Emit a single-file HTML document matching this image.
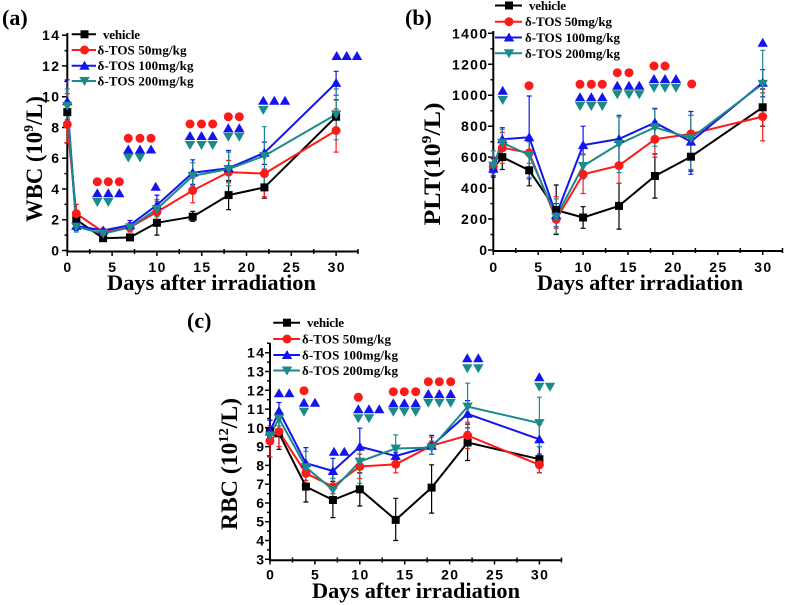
<!DOCTYPE html>
<html><head><meta charset="utf-8"><style>
html,body{margin:0;padding:0;background:#fff;overflow:hidden}
svg{display:block}
.tk{font-family:"Liberation Sans",Arial,sans-serif;font-weight:bold;font-size:14px;fill:#000}
.ti{font-family:"Liberation Serif","Times New Roman",serif;font-weight:bold;fill:#000}
.lg{font-family:"Liberation Serif","Times New Roman",serif;font-weight:bold;font-size:13px;fill:#000}
</style></head><body>
<svg width="787" height="605" viewBox="0 0 787 605" xmlns="http://www.w3.org/2000/svg">
<defs>
<rect id="sq" x="-4" y="-4" width="8" height="8" fill="#000"/>
<circle id="ci" r="4.5" fill="#ff1a1a"/>
<path id="tu" d="M0,-5 L5.2,4 L-5.2,4Z" fill="#1414f0"/>
<path id="td" d="M0,5 L5.2,-4 L-5.2,-4Z" fill="#1b8a8a"/>
</defs>
<rect width="787" height="605" fill="#fff"/>

<!-- ================= PANEL A ================= -->
<text class="ti" x="2" y="25" font-size="22">(a)</text>
<path d="M67.3,33 V251.5 H358" stroke="#000" stroke-width="2" fill="none"/>
<path stroke="#000" stroke-width="1.5" d="M62,250.5H67.3M62,219.7H67.3M62,189H67.3M62,158.2H67.3M62,127.5H67.3M62,96.7H67.3M62,65.9H67.3M62,35.2H67.3
M64.5,235.1H67.3M64.5,204.4H67.3M64.5,173.6H67.3M64.5,142.9H67.3M64.5,112.1H67.3M64.5,81.3H67.3M64.5,50.6H67.3
M67.3,251V256M112.1,251V256M156.9,251V256M201.7,251V256M246.5,251V256M291.3,251V256M336.1,251V256
M89.7,249V254M134.5,249V254M179.3,249V254M224.1,249V254M268.9,249V254M313.7,249V254M358,249V254"/>
<g class="tk" text-anchor="end">
<text x="59" y="255.5">0</text><text x="59" y="224.7">2</text><text x="59" y="194">4</text><text x="59" y="163.2">6</text><text x="59" y="132.5">8</text><text x="59" y="101.7" textLength="17">10</text><text x="59" y="70.9" textLength="17">12</text><text x="59" y="40.2" textLength="17">14</text>
</g>
<g class="tk" text-anchor="middle">
<text x="67.3" y="272">0</text><text x="112.1" y="272">5</text><text x="156.9" y="272" textLength="17">10</text><text x="201.7" y="272" textLength="17">15</text><text x="246.5" y="272" textLength="17">20</text><text x="291.3" y="272" textLength="17">25</text><text x="336.1" y="272" textLength="17">30</text>
</g>
<text class="ti" x="107" y="290" font-size="22" textLength="209" lengthAdjust="spacingAndGlyphs">Days after irradiation</text>
<text class="ti" transform="translate(42,159) rotate(-90)" text-anchor="middle" font-size="23" textLength="126" lengthAdjust="spacingAndGlyphs">WBC (10<tspan font-size="14" dy="-9">9</tspan><tspan dy="9">/L)</tspan></text>

<!-- error bars A -->
<path fill="none" stroke="#000" stroke-width="1.2" d="M76.3,225.9V213.6M73.8,225.9h5M73.8,213.6h5
M103.1,240.5V235.9M100.6,240.5h5M100.6,235.9h5
M130,239V235.9M127.5,239h5M127.5,235.9h5
M156.9,235.1V210.5M154.4,235.1h5M154.4,210.5h5
M192.7,221.3V211.3M190.2,221.3h5M190.2,211.3h5
M228.6,209.7V180.5M226.1,209.7h5M226.1,180.5h5
M264.4,198.2V176.7M261.9,198.2h5M261.9,176.7h5
M336.1,133.6V99.8M333.6,133.6h5M333.6,99.8h5"/>
<path fill="none" stroke="#ff1a1a" stroke-width="1.2" d="M67.3,142.8V93.6M64.8,142.8h5M64.8,93.6h5
M76.3,219.7V204.4M73.8,219.7h5M73.8,204.4h5
M103.1,235.1V229M100.6,235.1h5M100.6,229h5
M130,232V222.8M127.5,232h5M127.5,222.8h5
M156.9,222.8V199.7M154.4,222.8h5M154.4,199.7h5
M192.7,202.8V178.2M190.2,202.8h5M190.2,178.2h5
M228.6,182.8V160.5M226.1,182.8h5M226.1,160.5h5
M264.4,196.7V169M261.9,196.7h5M261.9,169h5
M336.1,152.1V109M333.6,152.1h5M333.6,109h5"/>
<path fill="none" stroke="#1414f0" stroke-width="1.2" d="M67.3,119.8V79.8M64.8,119.8h5M64.8,79.8h5
M76.3,230.5V221.3M73.8,230.5h5M73.8,221.3h5
M103.1,232.8V228.2M100.6,232.8h5M100.6,228.2h5
M130,229.7V220.5M127.5,229.7h5M127.5,220.5h5
M156.9,215.1V195.1M154.4,215.1h5M154.4,195.1h5
M192.7,184.4V159.8M190.2,184.4h5M190.2,159.8h5
M228.6,181.3V150.5M226.1,181.3h5M226.1,150.5h5
M264.4,164.4V142.1M261.9,164.4h5M261.9,142.1h5
M336.1,95.2V71.3M333.6,95.2h5M333.6,71.3h5"/>
<path fill="none" stroke="#1b8a8a" stroke-width="1.2" d="M67.3,122.9V89M64.8,122.9h5M64.8,89h5
M76.3,232V221.3M73.8,232h5M73.8,221.3h5
M103.1,235.9V231.3M100.6,235.9h5M100.6,231.3h5
M130,231.3V223.6M127.5,231.3h5M127.5,223.6h5
M156.9,216.7V201.3M154.4,216.7h5M154.4,201.3h5
M192.7,185.9V162.8M190.2,185.9h5M190.2,162.8h5
M228.6,185.9V152.1M226.1,185.9h5M226.1,152.1h5
M264.4,184.4V126.7M261.9,184.4h5M261.9,126.7h5
M336.1,139.8V89M333.6,139.8h5M333.6,89h5"/>

<!-- lines A -->
<g fill="none" stroke-width="2" stroke-linejoin="round">
<polyline stroke="#000" points="67.3,112.1 76.3,219.7 103.1,238.2 130,237.4 156.9,222.8 192.7,216.7 228.6,195.1 264.4,187.4 336.1,116.7"/>
<polyline stroke="#ff1a1a" points="67.3,124.4 76.3,213.6 103.1,232 130,227.4 156.9,212 192.7,190.5 228.6,172.1 264.4,173.6 336.1,130.5"/>
<polyline stroke="#1414f0" points="67.3,101.3 76.3,225.9 103.1,230.5 130,225.1 156.9,205.1 192.7,172.8 228.6,168.2 264.4,152.8 336.1,82.9"/>
<polyline stroke="#1b8a8a" points="67.3,105.9 76.3,226.7 103.1,233.6 130,227.4 156.9,209 192.7,175.9 228.6,169 264.4,155.9 336.1,114.4"/>
</g>
<g>
<use href="#sq" x="67.3" y="112.1"/><use href="#sq" x="76.3" y="219.7"/><use href="#sq" x="103.1" y="238.2"/><use href="#sq" x="130" y="237.4"/><use href="#sq" x="156.9" y="222.8"/><use href="#sq" x="192.7" y="216.7"/><use href="#sq" x="228.6" y="195.1"/><use href="#sq" x="264.4" y="187.4"/><use href="#sq" x="336.1" y="116.7"/>
<use href="#ci" x="67.3" y="124.4"/><use href="#ci" x="76.3" y="213.6"/><use href="#ci" x="103.1" y="232"/><use href="#ci" x="130" y="227.4"/><use href="#ci" x="156.9" y="212"/><use href="#ci" x="192.7" y="190.5"/><use href="#ci" x="228.6" y="172.1"/><use href="#ci" x="264.4" y="173.6"/><use href="#ci" x="336.1" y="130.5"/>
<use href="#tu" x="67.3" y="101.3"/><use href="#tu" x="76.3" y="225.9"/><use href="#tu" x="103.1" y="230.5"/><use href="#tu" x="130" y="225.1"/><use href="#tu" x="156.9" y="205.1"/><use href="#tu" x="192.7" y="172.8"/><use href="#tu" x="228.6" y="168.2"/><use href="#tu" x="264.4" y="152.8"/><use href="#tu" x="336.1" y="82.9"/>
<use href="#td" x="67.3" y="105.9"/><use href="#td" x="76.3" y="226.7"/><use href="#td" x="103.1" y="233.6"/><use href="#td" x="130" y="227.4"/><use href="#td" x="156.9" y="209"/><use href="#td" x="192.7" y="175.9"/><use href="#td" x="228.6" y="169"/><use href="#td" x="264.4" y="155.9"/><use href="#td" x="336.1" y="114.4"/>
</g>
<!-- significance A -->
<g>
<use href="#ci" x="97.3" y="181.7"/><use href="#ci" x="108.3" y="181.7"/><use href="#ci" x="119.3" y="181.7"/>
<use href="#ci" x="128.3" y="138.3"/><use href="#ci" x="140" y="138.3"/><use href="#ci" x="151" y="138.3"/>
<use href="#ci" x="190" y="124"/><use href="#ci" x="201.5" y="124"/><use href="#ci" x="212.7" y="124"/>
<use href="#ci" x="228.3" y="116.7"/><use href="#ci" x="239.3" y="116.7"/>
<use href="#tu" x="97.3" y="193.3"/><use href="#tu" x="108.3" y="193.3"/><use href="#tu" x="119.3" y="193.3"/>
<use href="#tu" x="128.3" y="149.5"/><use href="#tu" x="140" y="149.5"/><use href="#tu" x="151" y="149.5"/>
<use href="#tu" x="155.7" y="186.7"/>
<use href="#tu" x="190" y="136"/><use href="#tu" x="201.5" y="136"/><use href="#tu" x="212.7" y="136"/>
<use href="#tu" x="228.3" y="128.3"/><use href="#tu" x="239.3" y="128.3"/>
<use href="#tu" x="263.3" y="100.7"/><use href="#tu" x="274.3" y="100.7"/><use href="#tu" x="285" y="100.7"/>
<use href="#tu" x="336.7" y="56"/><use href="#tu" x="346.7" y="56"/><use href="#tu" x="357" y="56"/>
<use href="#td" x="97.3" y="202"/><use href="#td" x="108.3" y="202"/>
<use href="#td" x="128.3" y="157.5"/><use href="#td" x="140" y="157.5"/>
<use href="#td" x="190" y="145"/><use href="#td" x="201.5" y="145"/><use href="#td" x="212.7" y="145"/>
<use href="#td" x="228.3" y="136.7"/><use href="#td" x="239.3" y="136.7"/>
<use href="#td" x="263.3" y="110"/>
</g>
<!-- legend A -->
<g stroke-width="2">
<path d="M71.7,34.3H96" stroke="#000"/><use href="#sq" x="84.5" y="34.3"/>
<path d="M71.7,50H96" stroke="#ff1a1a"/><use href="#ci" x="84.5" y="50"/>
<path d="M71.7,65.7H96" stroke="#1414f0"/><use href="#tu" x="84.5" y="65.7"/>
<path d="M71.7,81H96" stroke="#1b8a8a"/><use href="#td" x="84.5" y="81"/>
</g>
<text class="lg" x="103" y="38.8" textLength="37">vehicle</text>
<text class="lg" x="97.5" y="54.5" textLength="89">δ-TOS 50mg/kg</text>
<text class="lg" x="97.5" y="70.2" textLength="96">δ-TOS 100mg/kg</text>
<text class="lg" x="97.5" y="85.5" textLength="96">δ-TOS 200mg/kg</text>

<!-- ================= PANEL B ================= -->
<text class="ti" x="405" y="25" font-size="22">(b)</text>
<path d="M493.3,31 V251 H783" stroke="#000" stroke-width="2" fill="none"/>
<path stroke="#000" stroke-width="1.5" d="M488,250H493.3M488,219H493.3M488,188.1H493.3M488,157.1H493.3M488,126.2H493.3M488,95.2H493.3M488,64.3H493.3M488,33.3H493.3
M490.5,234.5H493.3M490.5,203.6H493.3M490.5,172.6H493.3M490.5,141.7H493.3M490.5,110.7H493.3M490.5,79.8H493.3M490.5,48.8H493.3
M493.3,250V255M538.2,250V255M583.1,250V255M628,250V255M672.9,250V255M717.8,250V255M762.7,250V255
M515.8,248V253M560.7,248V253M605.6,248V253M650.5,248V253M695.4,248V253M740.3,248V253M782.5,248V253"/>
<g class="tk" text-anchor="end">
<text x="487" y="255">0</text><text x="487" y="224" textLength="26">200</text><text x="487" y="193.1" textLength="26">400</text><text x="487" y="162.1" textLength="26">600</text><text x="487" y="131.2" textLength="26">800</text><text x="487" y="100.2" textLength="35">1000</text><text x="487" y="69.3" textLength="35">1200</text><text x="487" y="38.3" textLength="35">1400</text>
</g>
<g class="tk" text-anchor="middle">
<text x="493.3" y="272">0</text><text x="538.2" y="272">5</text><text x="583.1" y="272" textLength="17">10</text><text x="628" y="272" textLength="17">15</text><text x="672.9" y="272" textLength="17">20</text><text x="717.8" y="272" textLength="17">25</text><text x="762.7" y="272" textLength="17">30</text>
</g>
<text class="ti" x="537" y="290" font-size="22" textLength="206" lengthAdjust="spacingAndGlyphs">Days after irradiation</text>
<text class="ti" transform="translate(440,164) rotate(-90)" text-anchor="middle" font-size="23" textLength="123" lengthAdjust="spacingAndGlyphs">PLT(10<tspan font-size="14" dy="-9">9</tspan><tspan dy="9">/L)</tspan></text>

<path fill="none" stroke="#000" stroke-width="1.2" d="M493.3,177.2V158.7M490.8,177.2h5M490.8,158.7h5
M502.3,169.5V144.7M499.8,169.5h5M499.8,144.7h5
M529.2,185.8V154.8M526.7,185.8h5M526.7,154.8h5
M556.2,234.5V185M553.7,234.5h5M553.7,185h5
M583.1,228.3V206.7M580.6,228.3h5M580.6,206.7h5
M619,229.1V183.4M616.5,229.1h5M616.5,183.4h5
M654.9,198.1V154M652.4,198.1h5M652.4,154h5
M690.9,171.1V141.6M688.4,171.1h5M688.4,141.6h5
M762.7,126.2V89M760.2,126.2h5M760.2,89h5"/>
<path fill="none" stroke="#ff1a1a" stroke-width="1.2" d="M502.3,163.3V132.4M499.8,163.3h5M499.8,132.4h5
M529.2,163.3V141.6M526.7,163.3h5M526.7,141.6h5
M556.2,228.3V196.6M553.7,228.3h5M553.7,196.6h5
M583.1,193.5V154.8M580.6,193.5h5M580.6,154.8h5
M619,183.4V144.7M616.5,183.4h5M616.5,144.7h5
M654.9,157.1V121.5M652.4,157.1h5M652.4,121.5h5
M690.9,157.1V115.3M688.4,157.1h5M688.4,115.3h5
M762.7,140.9V92.9M760.2,140.9h5M760.2,92.9h5"/>
<path fill="none" stroke="#1414f0" stroke-width="1.2" d="M493.3,175.7V157.1M490.8,175.7h5M490.8,157.1h5
M502.3,150.9V127.7M499.8,150.9h5M499.8,127.7h5
M529.2,178.8V96M526.7,178.8h5M526.7,96h5
M556.2,226.8V203.6M553.7,226.8h5M553.7,203.6h5
M583.1,164.9V126.2M580.6,164.9h5M580.6,126.2h5
M619,163.3V115.3M616.5,163.3h5M616.5,115.3h5
M654.9,141.6V108.4M652.4,141.6h5M652.4,108.4h5
M690.9,174.2V111.5M688.4,174.2h5M688.4,111.5h5
M762.7,96.8V69.7M760.2,96.8h5M760.2,69.7h5"/>
<path fill="none" stroke="#1b8a8a" stroke-width="1.2" d="M493.3,172.6V150.9M490.8,172.6h5M490.8,150.9h5
M502.3,157.1V129.3M499.8,157.1h5M499.8,129.3h5
M529.2,177.2V141.6M526.7,177.2h5M526.7,141.6h5
M556.2,233.7V198.9M553.7,233.7h5M553.7,198.9h5
M583.1,178.8V154M580.6,178.8h5M580.6,154h5
M619,172.6V116.9M616.5,172.6h5M616.5,116.9h5
M654.9,146.3V109.1M652.4,146.3h5M652.4,109.1h5
M690.9,169.5V115.3M688.4,169.5h5M688.4,115.3h5
M762.7,118.4V50.3M760.2,118.4h5M760.2,50.3h5"/>

<g fill="none" stroke-width="2" stroke-linejoin="round">
<polyline stroke="#000" points="493.3,168 502.3,157.1 529.2,170.3 556.2,210.1 583.1,217.5 619,205.9 654.9,176 690.9,156.7 762.7,107.3"/>
<polyline stroke="#ff1a1a" points="493.3,166.4 502.3,147.8 529.2,152.8 556.2,219.4 583.1,174.3 619,165.6 654.9,139.3 690.9,133.9 762.7,116.6"/>
<polyline stroke="#1414f0" points="493.3,168.7 502.3,139.3 529.2,137.3 556.2,215 583.1,145.1 619,139 654.9,122.6 690.9,141.6 762.7,82.7"/>
<polyline stroke="#1b8a8a" points="493.3,165.6 502.3,142.7 529.2,155 556.2,216.7 583.1,166 619,144 654.9,127.3 690.9,138.2 762.7,83.9"/>
</g>
<g>
<use href="#sq" x="493.3" y="168"/><use href="#sq" x="502.3" y="157.1"/><use href="#sq" x="529.2" y="170.3"/><use href="#sq" x="556.2" y="210.1"/><use href="#sq" x="583.1" y="217.5"/><use href="#sq" x="619" y="205.9"/><use href="#sq" x="654.9" y="176"/><use href="#sq" x="690.9" y="156.7"/><use href="#sq" x="762.7" y="107.3"/>
<use href="#ci" x="493.3" y="166.4"/><use href="#ci" x="502.3" y="147.8"/><use href="#ci" x="529.2" y="152.8"/><use href="#ci" x="556.2" y="219.4"/><use href="#ci" x="583.1" y="174.3"/><use href="#ci" x="619" y="165.6"/><use href="#ci" x="654.9" y="139.3"/><use href="#ci" x="690.9" y="133.9"/><use href="#ci" x="762.7" y="116.6"/>
<use href="#tu" x="493.3" y="168.7"/><use href="#tu" x="502.3" y="139.3"/><use href="#tu" x="529.2" y="137.3"/><use href="#tu" x="556.2" y="215"/><use href="#tu" x="583.1" y="145.1"/><use href="#tu" x="619" y="139"/><use href="#tu" x="654.9" y="122.6"/><use href="#tu" x="690.9" y="141.6"/><use href="#tu" x="762.7" y="82.7"/>
<use href="#td" x="493.3" y="165.6"/><use href="#td" x="502.3" y="142.7"/><use href="#td" x="529.2" y="155"/><use href="#td" x="556.2" y="216.7"/><use href="#td" x="583.1" y="166"/><use href="#td" x="619" y="144"/><use href="#td" x="654.9" y="127.3"/><use href="#td" x="690.9" y="138.2"/><use href="#td" x="762.7" y="83.9"/>
</g>
<g>
<use href="#tu" x="502.7" y="90.7"/><use href="#td" x="502.7" y="100"/>
<use href="#ci" x="529" y="85.7"/>
<use href="#ci" x="580" y="84.3"/><use href="#ci" x="591.3" y="84.3"/><use href="#ci" x="602.3" y="84.3"/>
<use href="#tu" x="580" y="97.3"/><use href="#tu" x="591.3" y="97.3"/><use href="#tu" x="602.3" y="97.3"/>
<use href="#td" x="580" y="106"/><use href="#td" x="591.3" y="106"/><use href="#td" x="602.3" y="106"/>
<use href="#ci" x="617.3" y="72.7"/><use href="#ci" x="629" y="72.7"/>
<use href="#tu" x="617.3" y="85.7"/><use href="#tu" x="629" y="85.7"/><use href="#tu" x="639.3" y="85.7"/>
<use href="#td" x="617.3" y="94.3"/><use href="#td" x="629" y="94.3"/><use href="#td" x="639.3" y="94.3"/>
<use href="#ci" x="654" y="66"/><use href="#ci" x="665" y="66"/>
<use href="#tu" x="654" y="79"/><use href="#tu" x="665" y="79"/><use href="#tu" x="676" y="79"/>
<use href="#td" x="654" y="87.7"/><use href="#td" x="665" y="87.7"/><use href="#td" x="676" y="87.7"/>
<use href="#ci" x="691.7" y="84"/>
<use href="#tu" x="762.7" y="42.7"/>
</g>
<g stroke-width="2">
<path d="M495,5.5H522" stroke="#000"/><use href="#sq" x="509" y="5.5"/>
<path d="M495,21.7H522" stroke="#ff1a1a"/><use href="#ci" x="509" y="21.7"/>
<path d="M495,37.5H522" stroke="#1414f0"/><use href="#tu" x="509" y="37.5"/>
<path d="M495,53.3H522" stroke="#1b8a8a"/><use href="#td" x="509" y="53.3"/>
</g>
<text class="lg" x="529" y="10" textLength="37">vehicle</text>
<text class="lg" x="525" y="26.2" textLength="87">δ-TOS 50mg/kg</text>
<text class="lg" x="525" y="42" textLength="95">δ-TOS 100mg/kg</text>
<text class="lg" x="525" y="57.8" textLength="95">δ-TOS 200mg/kg</text>

<!-- ================= PANEL C ================= -->
<text class="ti" x="187" y="328" font-size="22">(c)</text>
<path d="M270,343 V560.3 H562" stroke="#000" stroke-width="2" fill="none"/>
<path stroke="#000" stroke-width="1.5" d="M265,559.3H270M265,540.5H270M265,521.7H270M265,503H270M265,484.2H270M265,465.4H270M265,446.6H270M265,427.8H270M265,409.1H270M265,390.3H270M265,371.5H270M265,352.7H270
M267,549.9H270M267,531.1H270M267,512.4H270M267,493.6H270M267,474.8H270M267,456H270M267,437.2H270M267,418.5H270M267,399.7H270M267,380.9H270M267,362.1H270M267,343.3H270
M270,559.5V564.5M314.9,559.5V564.5M359.8,559.5V564.5M404.7,559.5V564.5M449.6,559.5V564.5M494.5,559.5V564.5M539.4,559.5V564.5
M292.5,557.5V562.5M337.4,557.5V562.5M382.3,557.5V562.5M427.2,557.5V562.5M472.1,557.5V562.5M517,557.5V562.5M561.5,557.5V562.5"/>
<g class="tk" text-anchor="end">
<text x="264" y="564.3">3</text><text x="264" y="545.5">4</text><text x="264" y="526.7">5</text><text x="264" y="508">6</text><text x="264" y="489.2">7</text><text x="264" y="470.4">8</text><text x="264" y="451.6">9</text><text x="264" y="432.8" textLength="17">10</text><text x="264" y="414.1" textLength="17">11</text><text x="264" y="395.3" textLength="17">12</text><text x="264" y="376.5" textLength="17">13</text><text x="264" y="357.7" textLength="17">14</text>
</g>
<g class="tk" text-anchor="middle">
<text x="270" y="579.5">0</text><text x="314.9" y="579.5">5</text><text x="359.8" y="579.5" textLength="17">10</text><text x="404.7" y="579.5" textLength="17">15</text><text x="449.6" y="579.5" textLength="17">20</text><text x="494.5" y="579.5" textLength="17">25</text><text x="539.4" y="579.5" textLength="17">30</text>
</g>
<text class="ti" x="312" y="598" font-size="22" textLength="208" lengthAdjust="spacingAndGlyphs">Days after irradiation</text>
<text class="ti" transform="translate(237,464) rotate(-90)" text-anchor="middle" font-size="23" textLength="132" lengthAdjust="spacingAndGlyphs">RBC (10<tspan font-size="14" dy="-9">12</tspan><tspan dy="9">/L)</tspan></text>

<path fill="none" stroke="#000" stroke-width="1.2" d="M270,441V420.3M267.5,441h5M267.5,420.3h5
M279,449.4V418.5M276.5,449.4h5M276.5,418.5h5
M305.9,502V471M303.4,502h5M303.4,471h5
M332.9,517.6V481.4M330.4,517.6h5M330.4,481.4h5
M359.8,506V472.9M357.3,506h5M357.3,472.9h5
M395.7,540.5V498.3M393.2,540.5h5M393.2,498.3h5
M431.6,513.1V464.8M429.1,513.1h5M429.1,464.8h5
M467.6,460.5V424.1M465.1,460.5h5M465.1,424.1h5
M539.4,472.9V446.6M536.9,472.9h5M536.9,446.6h5"/>
<path fill="none" stroke="#ff1a1a" stroke-width="1.2" d="M270,457V426M267.5,457h5M267.5,426h5
M279,446.6V416.6M276.5,446.6h5M276.5,416.6h5
M305.9,480.4V465.4M303.4,480.4h5M303.4,465.4h5
M332.9,493.6V478.5M330.4,493.6h5M330.4,478.5h5
M359.8,478.5V454.1M357.3,478.5h5M357.3,454.1h5
M395.7,472.9V456M393.2,472.9h5M393.2,456h5
M431.6,454.1V437.2M429.1,454.1h5M429.1,437.2h5
M467.6,448.5V422.2M465.1,448.5h5M465.1,422.2h5
M539.4,472.9V456M536.9,472.9h5M536.9,456h5"/>
<path fill="none" stroke="#1414f0" stroke-width="1.2" d="M270,442.9V420.3M267.5,442.9h5M267.5,420.3h5
M279,418.5V402.5M276.5,418.5h5M276.5,402.5h5
M305.9,476.7V447.6M303.4,476.7h5M303.4,447.6h5
M332.9,484.2V458.3M330.4,484.2h5M330.4,458.3h5
M359.8,465.4V428.2M357.3,465.4h5M357.3,428.2h5
M395.7,459.8V452.3M393.2,459.8h5M393.2,452.3h5
M431.6,454.1V435.4M429.1,454.1h5M429.1,435.4h5
M467.6,427.8V400.6M465.1,427.8h5M465.1,400.6h5
M539.4,454.1V424.1M536.9,454.1h5M536.9,424.1h5"/>
<path fill="none" stroke="#1b8a8a" stroke-width="1.2" d="M279,426V411M276.5,426h5M276.5,411h5
M305.9,484.2V451.3M303.4,484.2h5M303.4,451.3h5
M332.9,503V478.5M330.4,503h5M330.4,478.5h5
M359.8,483.2V450.4M357.3,483.2h5M357.3,450.4h5
M395.7,461.6V434.8M393.2,461.6h5M393.2,434.8h5
M431.6,454.1V441M429.1,454.1h5M429.1,441h5
M467.6,431.6V383.2M465.1,431.6h5M465.1,383.2h5
M539.4,446.6V397.2M536.9,446.6h5M536.9,397.2h5"/>

<g fill="none" stroke-width="2" stroke-linejoin="round">
<polyline stroke="#000" points="270,431.6 279,433.3 305.9,486.6 332.9,500 359.8,489.3 395.7,519.9 431.6,487.6 467.6,442.5 539.4,459.2"/>
<polyline stroke="#ff1a1a" points="270,441 279,431.6 305.9,473.3 332.9,486.6 359.8,466.5 395.7,464.3 431.6,445.7 467.6,435.5 539.4,464.8"/>
<polyline stroke="#1414f0" points="270,431.6 279,411 305.9,463.2 332.9,471 359.8,446.6 395.7,456 431.6,445.9 467.6,413.9 539.4,439.3"/>
<polyline stroke="#1b8a8a" points="270,435.4 279,418.5 305.9,467.3 332.9,489.8 359.8,461.6 395.7,448.5 431.6,447.6 467.6,406.6 539.4,423.1"/>
</g>
<g>
<use href="#sq" x="270" y="431.6"/><use href="#sq" x="279" y="433.3"/><use href="#sq" x="305.9" y="486.6"/><use href="#sq" x="332.9" y="500"/><use href="#sq" x="359.8" y="489.3"/><use href="#sq" x="395.7" y="519.9"/><use href="#sq" x="431.6" y="487.6"/><use href="#sq" x="467.6" y="442.5"/><use href="#sq" x="539.4" y="459.2"/>
<use href="#ci" x="270" y="441"/><use href="#ci" x="279" y="431.6"/><use href="#ci" x="305.9" y="473.3"/><use href="#ci" x="332.9" y="486.6"/><use href="#ci" x="359.8" y="466.5"/><use href="#ci" x="395.7" y="464.3"/><use href="#ci" x="431.6" y="445.7"/><use href="#ci" x="467.6" y="435.5"/><use href="#ci" x="539.4" y="464.8"/>
<use href="#tu" x="270" y="431.6"/><use href="#tu" x="279" y="411"/><use href="#tu" x="305.9" y="463.2"/><use href="#tu" x="332.9" y="471"/><use href="#tu" x="359.8" y="446.6"/><use href="#tu" x="395.7" y="456"/><use href="#tu" x="431.6" y="445.9"/><use href="#tu" x="467.6" y="413.9"/><use href="#tu" x="539.4" y="439.3"/>
<use href="#td" x="270" y="435.4"/><use href="#td" x="279" y="418.5"/><use href="#td" x="305.9" y="467.3"/><use href="#td" x="332.9" y="489.8"/><use href="#td" x="359.8" y="461.6"/><use href="#td" x="395.7" y="448.5"/><use href="#td" x="431.6" y="447.6"/><use href="#td" x="467.6" y="406.6"/><use href="#td" x="539.4" y="423.1"/>
</g>
<g>
<use href="#tu" x="279" y="393.3"/><use href="#tu" x="289.3" y="393.3"/>
<use href="#ci" x="304" y="390.7"/>
<use href="#tu" x="304" y="402.7"/><use href="#tu" x="315" y="402.7"/>
<use href="#td" x="304" y="411.7"/>
<use href="#tu" x="334" y="451.7"/><use href="#tu" x="344.3" y="451.7"/>
<use href="#ci" x="358.3" y="397.3"/>
<use href="#tu" x="358.3" y="409.3"/><use href="#tu" x="369" y="409.3"/><use href="#tu" x="379.3" y="409.3"/>
<use href="#td" x="358.3" y="418.3"/><use href="#td" x="369" y="418.3"/>
<use href="#ci" x="393.3" y="391.7"/><use href="#ci" x="404.3" y="391.7"/><use href="#ci" x="415.7" y="391.7"/>
<use href="#tu" x="393.3" y="403.3"/><use href="#tu" x="404.3" y="403.3"/><use href="#tu" x="415.7" y="403.3"/>
<use href="#td" x="393.3" y="411.7"/><use href="#td" x="404.3" y="411.7"/><use href="#td" x="415.7" y="411.7"/>
<use href="#ci" x="428.3" y="381.7"/><use href="#ci" x="439.3" y="381.7"/><use href="#ci" x="450.7" y="381.7"/>
<use href="#tu" x="428.3" y="394"/><use href="#tu" x="439.3" y="394"/><use href="#tu" x="450.7" y="394"/>
<use href="#td" x="428.3" y="402.7"/><use href="#td" x="439.3" y="402.7"/><use href="#td" x="450.7" y="402.7"/>
<use href="#tu" x="467.3" y="358.3"/><use href="#tu" x="478.3" y="358.3"/>
<use href="#td" x="467.3" y="368.3"/><use href="#td" x="478.3" y="368.3"/>
<use href="#tu" x="539.3" y="377.3"/>
<use href="#td" x="539.3" y="386.7"/><use href="#td" x="550" y="386.7"/>
</g>
<g stroke-width="2">
<path d="M273.3,322.7H300" stroke="#000"/><use href="#sq" x="287" y="322.7"/>
<path d="M273.3,339H300" stroke="#ff1a1a"/><use href="#ci" x="287" y="339"/>
<path d="M273.3,355H300" stroke="#1414f0"/><use href="#tu" x="287" y="355"/>
<path d="M273.3,370.5H300" stroke="#1b8a8a"/><use href="#td" x="287" y="370.5"/>
</g>
<text class="lg" x="307" y="327.2" textLength="37">vehicle</text>
<text class="lg" x="302" y="343.5" textLength="89">δ-TOS 50mg/kg</text>
<text class="lg" x="302" y="359.5" textLength="96">δ-TOS 100mg/kg</text>
<text class="lg" x="302" y="375" textLength="96">δ-TOS 200mg/kg</text>
</svg>
</body></html>
